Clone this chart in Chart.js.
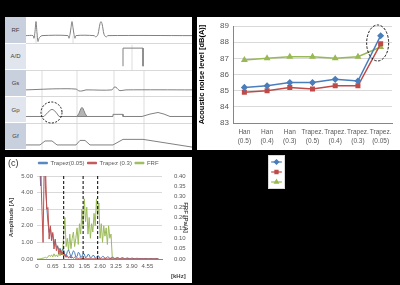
<!DOCTYPE html>
<html>
<head>
<meta charset="utf-8">
<script src="https://cdn.jsdelivr.net/npm/chart.js@4.4.0/dist/chart.umd.min.js"></script>
<style>
body { margin:0; background:#000; width:400px; height:285px; overflow:hidden; position:relative; font-family:"Liberation Sans", Arial, sans-serif; }
.panel { position:absolute; background:#fff; }
.lab { position:absolute; left:5px; width:21px; height:26.6px; font-size:6px; color:#404040; display:flex; align-items:center; justify-content:center; box-sizing:border-box; border-bottom:1px solid #fff; }
canvas { position:absolute; }
</style>
</head>
<body>
<div class="panel" style="left:5px;top:17px;width:187px;height:133px"></div>
<div class="panel" style="left:197px;top:17px;width:203px;height:133px"></div>
<div class="panel" style="left:5px;top:157px;width:187px;height:126px"></div>
<div class="panel" style="left:268px;top:155px;width:17px;height:34px;border:1px solid #d9d9d9;box-sizing:border-box"></div>

<div class="lab" style="top:17px;background:#c8d0de">RF</div>
<div class="lab" style="top:43.6px;background:#e1e6ee">A/D</div>
<div class="lab" style="top:70.2px;background:#c8d0de">Gs</div>
<div class="lab" style="top:96.8px;background:#e1e6ee">Gp</div>
<div class="lab" style="top:123.4px;background:#c8d0de">Gf</div>

<canvas id="seq" width="166" height="133" style="left:26px;top:17px"></canvas>
<canvas id="noise" width="203" height="133" style="left:197px;top:17px"></canvas>
<canvas id="key" width="15" height="32" style="left:269px;top:156px"></canvas>
<canvas id="spec" width="187" height="126" style="left:5px;top:157px"></canvas>

<div style="position:absolute;left:8px;top:158px;font-size:9px;color:#333">(c)</div>
<div style="position:absolute;left:171px;top:273px;font-size:6px;font-weight:bold;color:#404040">[kHz]</div>

<script>
// ---- (a) pulse sequence, time in a.u., amplitude relative to row baseline
var rowBase = { RF: 4.30, AD: 3.15, Gs: 2.26, Gp: 1.26, Gf: 0.19 };

var rfT = [0, 7, 8, 9, 10, 11, 12, 13, 14, 16, 42, 43, 44, 45, 46, 47, 48, 49, 50, 68, 70, 72, 73, 74, 75, 76, 77, 78, 80, 82, 166];
var rfV = [0, 0, -0.1, 0.15, 0.53, 0.1, -0.22, -0.1, -0.05, 0, 0, -0.1, 0.05, 0.3, 0.53, 0.3, 0.05, -0.1, 0, 0, -0.05, 0.05, 0.25, 0.45, 0.53, 0.45, 0.25, 0.05, -0.05, 0, 0];
var adT = [97, 97, 117, 117];
var adV = [0, 0.68, 0.68, 0];
var gsT = [0, 14, 30, 50, 53, 56, 60, 62, 86, 88, 90, 92, 94, 100, 166];
var gsV = [0, 0.02, 0.04, 0.03, -0.04, -0.04, 0, 0, 0, 0.1, 0.1, 0.02, -0.03, 0, 0];
var gpT = [0, 18, 22, 25, 27, 30, 33, 87, 87, 97, 97, 116, 124, 132, 138, 144, 166];
var gpV = [0, 0, 0.16, 0.26, 0.26, 0.16, 0, 0, 0.08, 0.08, 0, 0, 0.09, 0.15, 0.09, 0, 0];
var gpLobeT = [51, 53, 55, 56, 57, 59, 61];
var gpLobeV = [0, 0.12, 0.3, 0.34, 0.3, 0.12, 0];
var gfT = [0, 14, 19, 26, 31, 50, 54, 59, 64, 87, 97, 117, 166];
var gfV = [0, 0, 0.15, 0.15, 0, 0, 0.17, 0.17, 0, 0, 0.21, 0.21, -0.08];
var gradGuideT = [16, 51, 88, 118];
var rfGuideT = [10, 47];
var adGuideT = [106];

// ---- (b) acoustic noise level
var noiseLabels = [['Han', '(0.5)'], ['Han', '(0.4)'], ['Han', '(0.3)'], ['Trapez.', '(0.5)'], ['Trapez.', '(0.4)'], ['Trapez.', '(0.3)'], ['Trapez.', '(0.05)']];
var noiseBlue = [85.2, 85.3, 85.5, 85.5, 85.7, 85.6, 88.4];
var noiseRed = [84.9, 85.0, 85.2, 85.1, 85.3, 85.3, 87.9];
var noiseGreen = [86.9, 87.0, 87.1, 87.1, 87.0, 87.1, 87.7];

// ---- (c) spectra, sampled every 0.05 kHz
var freqStep = 0.05;
var xTickKHz = [0, 0.65, 1.30, 1.95, 2.60, 3.25, 3.90, 4.55];
var dashKHz = [1.1, 1.9, 2.5];
var ampTrapez005 = [
  9, 12, 6, 4.4, 8, 10, 7, 4.2, 3.2, 2.2,
  1.6, 1.9, 1.3, 1.5, 0.9, 1.1, 0.7, 0.75, 0.55, 0.65,
  0.35, 0.6, 0.55, 0.2, 0.15, 0.45, 0.55, 0.35, 0.1, 0.3,
  0.5, 0.4, 0.1, 0.15, 0.4, 0.35, 0.08, 0.15, 0.32, 0.3,
  0.06, 0.12, 0.28, 0.25, 0.05, 0.1, 0.22, 0.2, 0.04, 0.1,
  0.2, 0.17, 0.03, 0.08, 0.16, 0.14, 0.03, 0.07, 0.13, 0.12,
  0.02, 0.06, 0.11, 0.1, 0.02, 0.05, 0.09, 0.08, 0.02, 0.04,
  0.08, 0.07, 0.02, 0.03, 0.06, 0.06, 0.01, 0.03, 0.05, 0.05,
  0.01, 0.02, 0.04, 0.04, 0.01, 0.02, 0.03, 0.03, 0.01, 0.01,
  0.03, 0.02, 0.01, 0.01, 0.02, 0.02, 0.01, 0.01, 0.02, 0.01,
  0.01];
var ampTrapez03 = [
  8, 11, 6, 5.5, 3.2, 1.0, 6, 5.5, 3.0, 3.1,
  1.2, 2.0, 1.1, 1.6, 0.6, 1.2, 0.5, 0.8, 0.3, 0.6,
  0.25, 0.4, 0.15, 0.3, 0.1, 0.2, 0.05, 0.15, 0.05, 0.12,
  0.04, 0.1, 0.03, 0.07, 0.02, 0.05, 0.02, 0.04, 0.01, 0.03,
  0.01, 0.02, 0.01, 0.02, 0.01, 0.02, 0.01, 0.01, 0.01, 0.02,
  0.01, 0.01, 0.02, 0.01, 0.01, 0.01, 0.02, 0.01, 0.01, 0.01,
  0.01, 0.02, 0.01, 0.01, 0.01, 0.01, 0.01, 0.02, 0.01, 0.01,
  0.01, 0.01, 0.01, 0.01, 0.01, 0.01, 0.01, 0.01, 0.01, 0.01,
  0.01, 0.01, 0.01, 0.01, 0.01, 0.01, 0.01, 0.01, 0.01, 0.01,
  0.01, 0.01, 0.01, 0.01, 0.01, 0.01, 0.01, 0.01, 0.01, 0.01,
  0.01];
var frf = [
  0, 0, 0.001, 0.002, 0.003, 0.004, 0.006, 0.008, 0.005, 0.01,
  0.018, 0.012, 0.02, 0.01, 0.025, 0.012, 0.02, 0.01, 0.03, 0.015,
  0.04, 0.02, 0.12, 0.2, 0.06, 0.1, 0.04, 0.12, 0.05, 0.1,
  0.13, 0.06, 0.1, 0.15, 0.07, 0.17, 0.12, 0.24, 0.15, 0.29,
  0.18, 0.25, 0.12, 0.2, 0.1, 0.17, 0.13, 0.22, 0.16, 0.29,
  0.21, 0.27, 0.1, 0.17, 0.08, 0.16, 0.11, 0.15, 0.07, 0.16,
  0.1, 0.12, 0.01, 0, 0, 0, 0, 0, 0, 0,
  0, 0, 0, 0, 0, 0, 0, 0, 0, 0,
  0, 0, 0, 0, 0, 0, 0, 0, 0, 0,
  0, 0, 0, 0, 0, 0, 0, 0, 0, 0,
  0];

Chart.defaults.font.family = "'Liberation Sans', Arial, sans-serif";
Chart.defaults.animation = false;
Chart.defaults.responsive = false;
Chart.defaults.plugins.legend.display = false;
Chart.defaults.plugins.tooltip.enabled = false;

function seq(t, v, base) {
  return t.map(function (x, i) { return { x: x, y: base + v[i] }; });
}
function vline(t, y0, y1) {
  return [{ x: t, y: y0 }, { x: t, y: y1 }];
}

var wave = { borderColor: '#808080', borderWidth: 1, pointRadius: 0, fill: false, tension: 0 };
var guide = { borderColor: '#d4d4d4', borderWidth: 0.8, pointRadius: 0, fill: false };

var seqSets = [
  Object.assign({}, wave, { data: seq(rfT, rfV, rowBase.RF), tension: 0.3 }),
  Object.assign({}, wave, { data: seq(adT, adV, rowBase.AD) }),
  Object.assign({}, wave, { data: seq(gsT, gsV, rowBase.Gs), tension: 0.3 }),
  Object.assign({}, wave, { data: seq(gpT, gpV, rowBase.Gp) }),
  Object.assign({}, wave, { data: seq(gpLobeT, gpLobeV, rowBase.Gp), tension: 0.3, fill: { value: rowBase.Gp }, backgroundColor: 'rgba(120,120,120,0.55)' }),
  Object.assign({}, wave, { data: seq(gfT, gfV, rowBase.Gf) })
];
gradGuideT.forEach(function (t) { seqSets.push(Object.assign({}, guide, { data: vline(t, 0, 3) })); });
rfGuideT.forEach(function (t) { seqSets.push(Object.assign({}, guide, { data: vline(t, 4, rowBase.RF) })); });
adGuideT.forEach(function (t) { seqSets.push(Object.assign({}, guide, { data: vline(t, 3, 3.96) })); });

var circlePlugin = {
  id: 'circle',
  afterDatasetsDraw: function (chart) {
    var ctx = chart.ctx;
    var cx = chart.scales.x.getPixelForValue(25.5);
    var cy = chart.scales.y.getPixelForValue(rowBase.Gp + 0.15);
    ctx.save();
    ctx.setLineDash([2, 1.5]);
    ctx.strokeStyle = '#000';
    ctx.lineWidth = 0.9;
    ctx.beginPath();
    ctx.arc(cx, cy, 10.5, 0, Math.PI * 2);
    ctx.stroke();
    ctx.restore();
  }
};

new Chart(document.getElementById('seq'), {
  type: 'line',
  data: { datasets: seqSets },
  options: {
    layout: { padding: 0 },
    scales: {
      x: { type: 'linear', min: 0, max: 166, display: false },
      y: {
        min: 0, max: 5,
        ticks: { display: false, stepSize: 1 },
        grid: { drawTicks: false, color: function (c) { return (c.tick.value > 0 && c.tick.value < 5) ? '#d9d9d9' : 'rgba(0,0,0,0)'; } },
        border: { display: false },
        afterFit: function (s) { s.width = 0; }
      }
    }
  },
  plugins: [circlePlugin]
});

// ---- (b)
var ellipsePlugin = {
  id: 'ellipse',
  afterDatasetsDraw: function (chart) {
    var ctx = chart.ctx;
    var cx = chart.scales.x.getPixelForValue(6) - 3;
    var cy = chart.scales.y.getPixelForValue(87.95);
    ctx.save();
    ctx.setLineDash([2.5, 1.5]);
    ctx.strokeStyle = '#000';
    ctx.lineWidth = 0.9;
    ctx.beginPath();
    ctx.ellipse(cx, cy, 11, 18, 0, 0, Math.PI * 2);
    ctx.stroke();
    ctx.restore();
  }
};

var blue = '#4a7ebb', red = '#be4b48', green = '#98b954';

new Chart(document.getElementById('noise'), {
  type: 'line',
  data: {
    labels: noiseLabels,
    datasets: [
      { label: 'Series1', data: noiseBlue, borderColor: blue, backgroundColor: blue, pointStyle: 'rectRot', pointRadius: 2.5, borderWidth: 1.5 },
      { label: 'Series2', data: noiseRed, borderColor: red, backgroundColor: red, pointStyle: 'rect', pointRadius: 2.5, borderWidth: 1.5 },
      { label: 'Series3', data: noiseGreen, borderColor: green, backgroundColor: green, pointStyle: 'triangle', pointRadius: 2.5, borderWidth: 1.5 }
    ]
  },
  options: {
    layout: { padding: { top: 9, right: 8 } },
    scales: {
      x: {
        offset: true,
        grid: { display: false, drawTicks: false },
        border: { color: '#868686' },
        ticks: { font: { size: 6.5, lineHeight: 1.35 }, color: '#595959', maxRotation: 0, autoSkip: false, padding: 5 },
        afterFit: function (s) { s.height = 27; }
      },
      y: {
        min: 83, max: 89,
        ticks: { stepSize: 1, font: { size: 8 }, color: '#595959', padding: 4 },
        grid: { color: '#d9d9d9', drawTicks: false },
        border: { color: '#868686' },
        title: { display: true, text: 'Acoustic noise level [dB(A)]', font: { size: 7.5, weight: 'bold' }, color: '#000', padding: 0 },
        afterFit: function (s) { s.width = 36; }
      }
    }
  },
  plugins: [ellipsePlugin]
});

// ---- legend key of (b): one short line with marker per series
var keyColors = [blue, red, green];
var keyStyles = ['rectRot', 'rect', 'triangle'];
new Chart(document.getElementById('key'), {
  type: 'line',
  data: {
    datasets: keyColors.map(function (c, i) {
      var row = keyColors.length - i;
      return {
        data: [{ x: 0, y: row }, { x: 1, y: row }, { x: 2, y: row }],
        borderColor: c, backgroundColor: c, borderWidth: 1.2,
        pointStyle: keyStyles[i], pointRadius: [0, 2.2, 0]
      };
    })
  },
  options: {
    layout: { padding: 0 },
    scales: {
      x: { type: 'linear', min: -0.4, max: 2.4, display: false },
      y: { min: 0.4, max: 3.6, display: false }
    }
  }
});

// ---- (c)
var freqKHz = ampTrapez005.map(function (_, i) { return +(i * freqStep).toFixed(2); });
function pts(vals) {
  return vals.map(function (v, i) { return { x: freqKHz[i], y: v }; });
}
var specSets = [
  { label: 'Trapez(0.05)', data: pts(ampTrapez005), yAxisID: 'y', borderColor: '#4f81bd', backgroundColor: '#4f81bd', borderWidth: 1, pointRadius: 0, order: 1 },
  { label: 'Trapez (0.3)', data: pts(ampTrapez03), yAxisID: 'y', borderColor: '#c0504d', backgroundColor: '#c0504d', borderWidth: 1, pointRadius: 0, order: 0 },
  { label: 'FRF', data: pts(frf), yAxisID: 'y2', borderColor: '#9bbb59', backgroundColor: '#9bbb59', borderWidth: 1, pointRadius: 0, order: 2 }
];
dashKHz.forEach(function (f) {
  specSets.push({ label: '', data: vline(f, 0, 5), yAxisID: 'y', borderColor: '#000', borderWidth: 1, borderDash: [3, 2], pointRadius: 0, order: -1 });
});

var tickFont = { size: 6 };
new Chart(document.getElementById('spec'), {
  type: 'line',
  data: { datasets: specSets },
  options: {
    layout: { padding: { top: 0 } },
    plugins: {
      legend: {
        display: true, position: 'top',
        labels: {
          boxWidth: 9, boxHeight: 1.5, font: { size: 6 }, color: '#595959', padding: 3,
          filter: function (item) { return item.text !== ''; },
          sort: function (a, b) { return a.datasetIndex - b.datasetIndex; }
        }
      }
    },
    scales: {
      x: {
        type: 'linear', min: 0, max: 5.15,
        afterBuildTicks: function (ax) { ax.ticks = xTickKHz.map(function (v) { return { value: v }; }); },
        ticks: { callback: function (v) { return v === 0 ? '0' : v.toFixed(2); }, font: tickFont, color: '#595959', maxRotation: 0, autoSkip: false, padding: 4 },
        grid: { display: false, drawTicks: false },
        border: { color: '#868686' },
        afterFit: function (s) { s.height = 24; }
      },
      y: {
        position: 'left', min: 0, max: 5,
        ticks: { stepSize: 0.5, callback: function (v) { return v.toFixed(2); }, font: tickFont, color: '#595959', padding: 4 },
        grid: { color: '#d9d9d9', drawTicks: false },
        border: { display: false },
        title: { display: true, text: 'Amplitude [A]', font: { size: 6, weight: 'bold' }, color: '#404040', padding: { top: 3, bottom: 0 } },
        afterFit: function (s) { s.width = 32; }
      },
      y2: {
        position: 'right', min: 0, max: 0.4,
        ticks: { stepSize: 0.05, callback: function (v) { return v.toFixed(2); }, font: tickFont, color: '#595959', padding: 4 },
        grid: { display: false },
        border: { display: false },
        title: { display: true, text: 'FRF [Pa/A]', font: { size: 6, weight: 'bold' }, color: '#404040', padding: { top: 3, bottom: 0 } },
        afterFit: function (s) { s.width = 30; }
      }
    }
  }
});
</script>
</body>
</html>
